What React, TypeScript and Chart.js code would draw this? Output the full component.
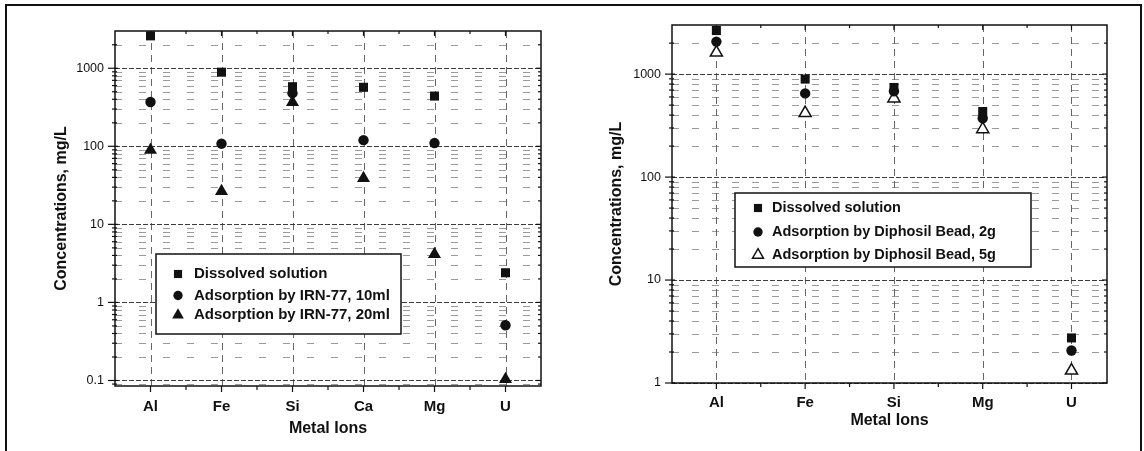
import React, { useEffect, useRef } from 'react';
import { Chart, registerables } from 'chart.js';

Chart.register(...registerables);

// ---------- Data: left panel (IRN-77) ----------
const leftCategories = ['Al', 'Fe', 'Si', 'Ca', 'Mg', 'U'];
const leftDissolved = [2600, 890, 580, 570, 440, 2.4];
const leftIRN10 = [370, 108, 480, 120, 110, 0.51];
const leftIRN20 = [90, 26.6, 366, 39, 4.15, 0.104];
const leftYTicks = [0.1, 1, 10, 100, 1000];
const leftYLabels = ['0.1', '1', '10', '100', '1000'];
const leftSeriesLabels = [
  'Dissolved solution',
  'Adsorption by IRN-77, 10ml',
  'Adsorption by IRN-77, 20ml',
];

// ---------- Data: right panel (Diphosil Bead) ----------
const rightCategories = ['Al', 'Fe', 'Si', 'Mg', 'U'];
const rightDissolved = [2650, 895, 742, 433, 2.74];
const rightBead2g = [2070, 650, 680, 373, 2.07];
const rightBead5g = [1620, 419, 580, 292, 1.32];
const rightYTicks = [1, 10, 100, 1000];
const rightYLabels = ['1', '10', '100', '1000'];
const rightSeriesLabels = [
  'Dissolved solution',
  'Adsorption by Diphosil Bead, 2g',
  'Adsorption by Diphosil Bead, 5g',
];

const xTitle = 'Metal Ions';
const yTitle = 'Concentrations, mg/L';
const minorMultipliers = [2, 3, 4, 5, 6, 7, 8, 9];

const FONT = "'Liberation Sans', Arial, Helvetica, sans-serif";
const INK = '#111';

type Series = {
  label: string;
  values: number[];
  style: 'rect' | 'circle' | 'triangle';
  radius: number;
  fill: string;
  bw: number;
};

type Panel = {
  categories: string[];
  series: Series[];
  yTicks: number[];
  yLabels: string[];
  yMin: number;
  yMax: number;
  xMin: number;
  xMax: number;
  padTop: number;
  padRight: number;
  yAxisWidth: number;
  xAxisHeight: number;
  yTitlePad: number;
  xTitlePad: number;
  xLabelPad: number;
  minorDash: number[];
  legend: { x0: number; y0: number; x1: number; y1: number; mx: number; tx: number; rows: number[]; font: number };
};

function marker(ctx: CanvasRenderingContext2D, style: string, x: number, y: number, r: number) {
  ctx.beginPath();
  if (style === 'rect') {
    const s = r * Math.SQRT1_2;
    ctx.rect(x - s, y - s, 2 * s, 2 * s);
  } else if (style === 'circle') {
    ctx.arc(x, y, r, 0, Math.PI * 2);
  } else {
    ctx.moveTo(x, y - r);
    ctx.lineTo(x + r * Math.sin((2 * Math.PI) / 3), y - r * Math.cos((2 * Math.PI) / 3));
    ctx.lineTo(x + r * Math.sin((4 * Math.PI) / 3), y - r * Math.cos((4 * Math.PI) / 3));
    ctx.closePath();
  }
}

function makeDecor(p: Panel) {
  const seg = (ctx: CanvasRenderingContext2D, x0: number, y0: number, x1: number, y1: number) => {
    ctx.beginPath();
    ctx.moveTo(x0, y0);
    ctx.lineTo(x1, y1);
    ctx.stroke();
  };
  return {
    id: 'decor',
    beforeDatasetsDraw(chart: any) {
      const { ctx, chartArea: a } = chart;
      const xs = chart.scales.x;
      const ys = chart.scales.y;
      ctx.save();
      // minor horizontal grid
      const eMin = Math.floor(Math.log10(p.yMin));
      const eMax = Math.ceil(Math.log10(p.yMax));
      ctx.lineWidth = 1;
      ctx.strokeStyle = '#9a9a9a';
      ctx.setLineDash(p.minorDash);
      for (let e = eMin; e <= eMax; e++) {
        for (const m of minorMultipliers) {
          const v = m * Math.pow(10, e);
          if (v <= p.yMin || v >= p.yMax) continue;
          const py = Math.round(ys.getPixelForValue(v)) + 0.5;
          seg(ctx, a.left, py, a.right, py);
        }
      }
      // vertical category grid
      ctx.strokeStyle = '#666';
      ctx.setLineDash([7, 5]);
      p.categories.forEach((_, i) => {
        const px = Math.round(xs.getPixelForValue(i + 1)) + 0.5;
        seg(ctx, px, a.top, px, a.bottom);
      });
      // major horizontal grid
      ctx.strokeStyle = '#3c3c3c';
      ctx.setLineDash([5, 2]);
      p.yTicks.forEach((v) => {
        const py = Math.round(ys.getPixelForValue(v)) + 0.5;
        seg(ctx, a.left, py, a.right, py);
      });
      // frame
      ctx.setLineDash([]);
      ctx.strokeStyle = INK;
      ctx.lineWidth = 1.5;
      ctx.strokeRect(a.left, a.top, a.right - a.left, a.bottom - a.top);
      // ticks
      ctx.lineWidth = 1.2;
      p.categories.forEach((_, i) => {
        const px = xs.getPixelForValue(i + 1);
        seg(ctx, px, a.bottom, px, a.bottom + 6);
        seg(ctx, px, a.top, px, a.top + 5);
        const mid = i + 1.5;
        if (mid < p.xMax) {
          const pm = xs.getPixelForValue(mid);
          seg(ctx, pm, a.bottom, pm, a.bottom + 4);
          seg(ctx, pm, a.top, pm, a.top + 3);
        }
      });
      for (let e = eMin; e <= eMax; e++) {
        for (const m of minorMultipliers) {
          const v = m * Math.pow(10, e);
          if (v <= p.yMin || v >= p.yMax) continue;
          const py = ys.getPixelForValue(v);
          seg(ctx, a.left - 3, py, a.left + 2, py);
          seg(ctx, a.right - 3, py, a.right, py);
        }
      }
      p.yTicks.forEach((v) => {
        const py = ys.getPixelForValue(v);
        seg(ctx, a.left - 7, py, a.left + 3, py);
        seg(ctx, a.right - 5, py, a.right, py);
      });
      ctx.restore();
    },
    afterDatasetsDraw(chart: any) {
      const { ctx } = chart;
      const L = p.legend;
      ctx.save();
      ctx.fillStyle = '#fff';
      ctx.fillRect(L.x0, L.y0, L.x1 - L.x0, L.y1 - L.y0);
      ctx.strokeStyle = INK;
      ctx.lineWidth = 1.5;
      ctx.strokeRect(L.x0, L.y0, L.x1 - L.x0, L.y1 - L.y0);
      p.series.forEach((s, i) => {
        const y = L.rows[i];
        marker(ctx, s.style, L.mx, y, s.radius * 0.9);
        ctx.fillStyle = s.fill;
        ctx.fill();
        if (s.bw > 0) {
          ctx.lineWidth = s.bw;
          ctx.strokeStyle = INK;
          ctx.stroke();
        }
        ctx.fillStyle = INK;
        ctx.font = `bold ${L.font}px ${FONT}`;
        ctx.textBaseline = 'middle';
        ctx.textAlign = 'left';
        ctx.fillText(s.label, L.tx, y);
      });
      ctx.restore();
    },
  };
}

function makeConfig(p: Panel): any {
  return {
    type: 'scatter',
    data: {
      datasets: p.series.map((s) => ({
        label: s.label,
        data: s.values.map((v, i) => ({ x: i + 1, y: v })),
        pointStyle: s.style,
        pointRadius: s.radius,
        pointHoverRadius: s.radius,
        backgroundColor: s.fill,
        borderColor: INK,
        borderWidth: s.bw,
        showLine: false,
        clip: false,
      })),
    },
    options: {
      animation: false,
      responsive: false,
      maintainAspectRatio: false,
      events: [],
      layout: { padding: { left: 0, top: p.padTop, right: p.padRight, bottom: 0 } },
      plugins: { legend: { display: false }, tooltip: { enabled: false } },
      scales: {
        x: {
          type: 'linear',
          min: p.xMin,
          max: p.xMax,
          afterBuildTicks: (s: any) => {
            s.ticks = p.categories.map((_, i) => ({ value: i + 1 }));
          },
          afterFit: (s: any) => {
            s.height = p.xAxisHeight;
          },
          grid: { display: false, drawTicks: false, tickLength: 0 },
          border: { display: false },
          ticks: {
            autoSkip: false,
            maxRotation: 0,
            padding: p.xLabelPad,
            color: INK,
            font: { family: FONT, size: 15, weight: 'bold' },
            callback: (v: number) => p.categories[Math.round(v) - 1] ?? '',
          },
          title: {
            display: true,
            text: xTitle,
            color: INK,
            font: { family: FONT, size: 16, weight: 'bold' },
            padding: { top: 0, bottom: p.xTitlePad },
          },
        },
        y: {
          type: 'logarithmic',
          min: p.yMin,
          max: p.yMax,
          afterBuildTicks: (s: any) => {
            s.ticks = p.yTicks.map((v) => ({ value: v }));
          },
          afterFit: (s: any) => {
            s.width = p.yAxisWidth;
          },
          grid: { display: false, drawTicks: false, tickLength: 0 },
          border: { display: false },
          ticks: {
            autoSkip: false,
            padding: 11,
            color: INK,
            font: { family: FONT, size: 12.5 },
            callback: (v: number) => {
              const i = p.yTicks.findIndex((t) => Math.abs(t - v) < t * 1e-6);
              return i >= 0 ? p.yLabels[i] : '';
            },
          },
          title: {
            display: true,
            text: yTitle,
            color: INK,
            font: { family: FONT, size: 16, weight: 'bold' },
            padding: { top: p.yTitlePad, bottom: 0 },
          },
        },
      },
    },
    plugins: [makeDecor(p)],
  };
}

const leftPanel: Panel = {
  categories: leftCategories,
  series: [
    { label: leftSeriesLabels[0], values: leftDissolved, style: 'rect', radius: 6.4, fill: INK, bw: 0 },
    { label: leftSeriesLabels[1], values: leftIRN10, style: 'circle', radius: 5.2, fill: INK, bw: 0 },
    { label: leftSeriesLabels[2], values: leftIRN20, style: 'triangle', radius: 7.5, fill: INK, bw: 0 },
  ],
  yTicks: leftYTicks,
  yLabels: leftYLabels,
  yMin: 0.085,
  yMax: 3000,
  xMin: 0.5,
  xMax: 6.5,
  padTop: 31,
  padRight: 19,
  yAxisWidth: 115,
  xAxisHeight: 65,
  yTitlePad: 52,
  xTitlePad: 13,
  xLabelPad: 12,
  minorDash: [7, 17],
  legend: { x0: 156, y0: 254, x1: 401, y1: 334, mx: 178, tx: 194, rows: [274, 295.5, 315], font: 15 },
};

const rightPanel: Panel = {
  categories: rightCategories,
  series: [
    { label: rightSeriesLabels[0], values: rightDissolved, style: 'rect', radius: 6.4, fill: INK, bw: 0 },
    { label: rightSeriesLabels[1], values: rightBead2g, style: 'circle', radius: 5.2, fill: INK, bw: 0 },
    { label: rightSeriesLabels[2], values: rightBead5g, style: 'triangle', radius: 7, fill: '#fff', bw: 1.5 },
  ],
  yTicks: rightYTicks,
  yLabels: rightYLabels,
  yMin: 1,
  yMax: 3000,
  xMin: 0.5,
  xMax: 5.4,
  padTop: 25,
  padRight: 37,
  yAxisWidth: 102,
  xAxisHeight: 68,
  yTitlePad: 37,
  xTitlePad: 21,
  xLabelPad: 11,
  minorDash: [7, 13],
  legend: { x0: 165, y0: 193, x1: 461, y1: 267, mx: 188, tx: 202, rows: [208, 232, 255], font: 14.5 },
};

function ChartCanvas({ panel, left, width }: { panel: Panel; left: number; width: number }) {
  const ref = useRef<HTMLCanvasElement | null>(null);
  useEffect(() => {
    if (!ref.current) return;
    const chart = new Chart(ref.current, makeConfig(panel));
    return () => chart.destroy();
  }, [panel]);
  return (
    <canvas
      ref={ref}
      width={width}
      height={451}
      style={{ position: 'absolute', left, top: 0, width, height: 451 }}
    />
  );
}

export default function App() {
  return (
    <div
      style={{
        position: 'absolute',
        left: 0,
        top: 0,
        width: 1144,
        height: 451,
        background: '#fff',
        overflow: 'hidden',
      }}
    >
      <ChartCanvas panel={leftPanel} left={0} width={560} />
      <ChartCanvas panel={rightPanel} left={570} width={574} />
      <div style={{ position: 'absolute', left: 5, top: 4, width: 1137, height: 2, background: INK }} />
      <div style={{ position: 'absolute', left: 5, top: 4, width: 2, height: 447, background: INK }} />
      <div style={{ position: 'absolute', left: 1140, top: 4, width: 2, height: 447, background: INK }} />
    </div>
  );
}
